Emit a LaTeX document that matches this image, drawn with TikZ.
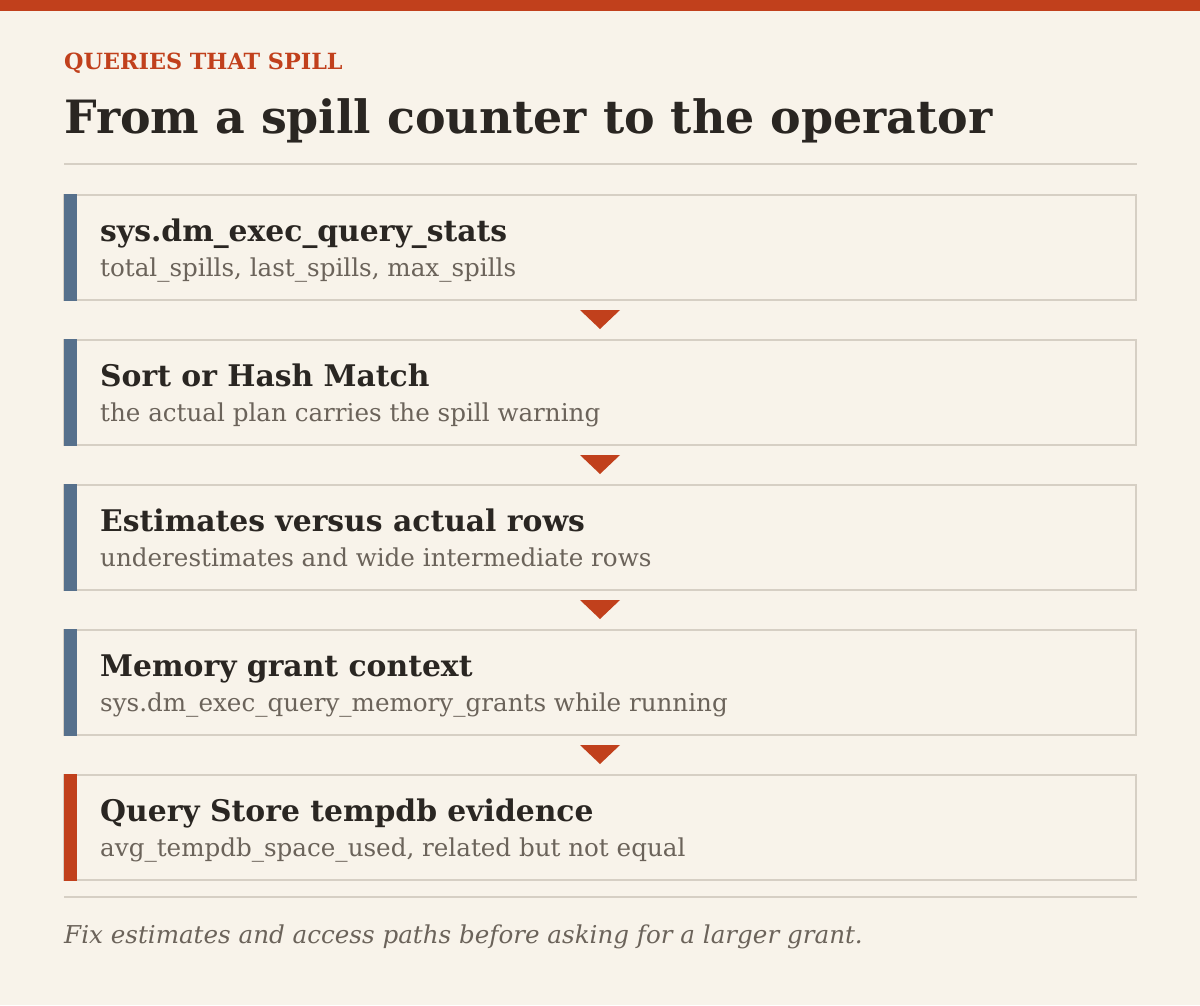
\documentclass[tikz,border=0pt]{standalone}
\usepackage{fontspec}
\usetikzlibrary{calc}
\setmainfont{DejaVu Serif}
\definecolor{bg}{HTML}{F8F3EA}
\definecolor{accent}{HTML}{C1401C}
\definecolor{slate}{HTML}{56708C}
\definecolor{ink}{HTML}{2A2622}
\definecolor{muted}{HTML}{6B635A}
\definecolor{rule}{HTML}{D6CFC4}
\tikzset{
  kicker/.style={anchor=base west, inner sep=0, text=accent, font=\bfseries\fontsize{22.3}{26}\selectfont},
  headline/.style={anchor=base west, inner sep=0, text=ink, font=\bfseries\fontsize{45.9}{52}\selectfont},
  steptitle/.style={anchor=base west, inner sep=0, text=ink, font=\bfseries\fontsize{29.8}{34}\selectfont},
  stepsub/.style={anchor=base west, inner sep=0, text=muted, font=\fontsize{24.6}{28}\selectfont},
  footnote/.style={anchor=base west, inner sep=0, text=muted, font=\itshape\fontsize{24.6}{28}\selectfont},
  card/.style={draw=rule, line width=1.5pt, fill=bg},
  arrowtri/.style={fill=accent, draw=none},
}
\begin{document}
\begin{tikzpicture}[x=1pt,y=-1pt]
\fill[bg] (0,0) rectangle (1200,1005);
\useasboundingbox (0,0) rectangle (1200,1005);
\fill[accent] (0,0) rectangle (1200,11);
\node[kicker] (kick) at (64,69) {QUERIES THAT SPILL};
\node[headline] (head) at (64,133) {From a spill counter to the operator};
\draw[rule, line width=1.5pt] (64,164) -- (1137,164);
% cards
\foreach \i/\y/\barcol/\t/\s in {
  1/195/slate/{sys.dm\_exec\_query\_stats}/{total\_spills, last\_spills, max\_spills},
  2/340/slate/{Sort or Hash Match}/{the actual plan carries the spill warning},
  3/485/slate/{Estimates versus actual rows}/{underestimates and wide intermediate rows},
  4/630/slate/{Memory grant context}/{sys.dm\_exec\_query\_memory\_grants while running},
  5/775/accent/{Query Store tempdb evidence}/{avg\_tempdb\_space\_used, related but not equal}}{
  \draw[card] (64,\y) rectangle (1136,\y+105);
  \coordinate (c\i) at (600,\y);
  \fill[\barcol] (64,\y-0.75) rectangle (77,\y+105.75);
  \node[steptitle] (t\i) at (100,\y+46) {\t};
  \node[stepsub] (s\i) at (100,\y+81) {\s};
}
\foreach \i in {1,2,3,4}{
  \fill[arrowtri] ($(c\i)+(-20,115)$) -- ($(c\i)+(20,115)$) -- ($(c\i)+(0,134)$) -- cycle;
}
\draw[rule, line width=1.5pt] (64,897) -- (1137,897);
\node[footnote] (foot) at (64,943) {Fix estimates and access paths before asking for a larger grant.};
\end{tikzpicture}
\end{document}
